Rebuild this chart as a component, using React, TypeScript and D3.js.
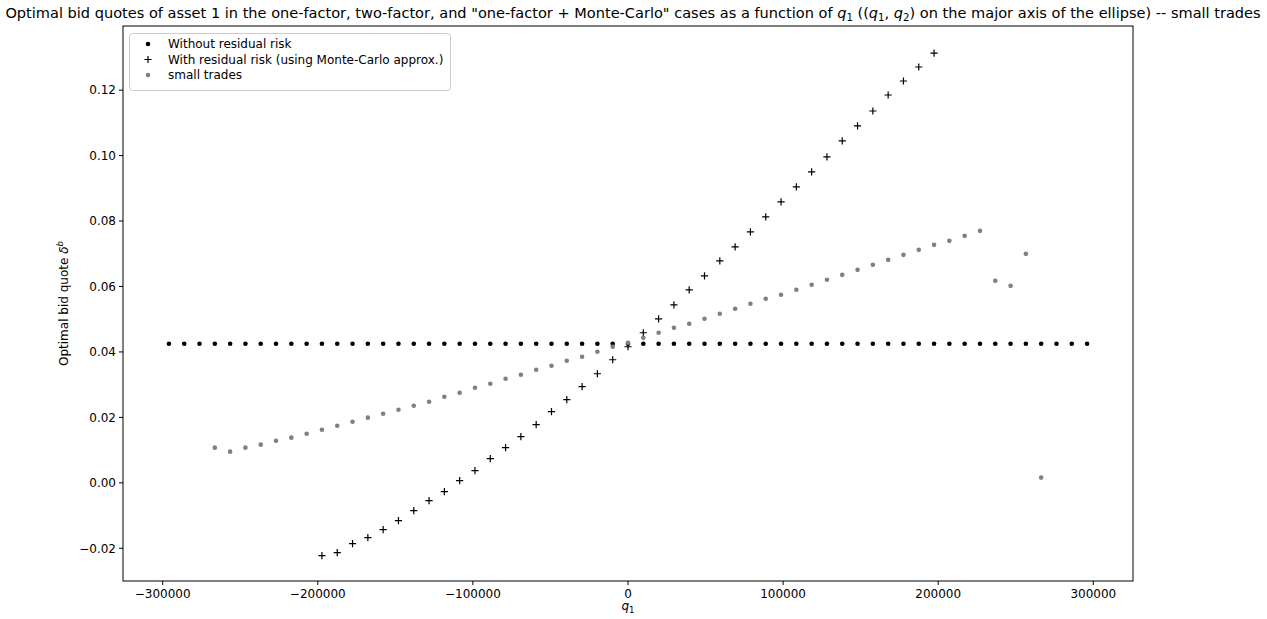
import React from 'react';
import * as d3 from 'd3';

const q1 = [
  -296000, -286133, -276267, -266400, -256533, -246667, -236800, -226933, -217067, -207200,
  -197333, -187467, -177600, -167733, -157867, -148000, -138133, -128267, -118400, -108533,
  -98667, -88800, -78933, -69067, -59200, -49333, -39467, -29600, -19733, -9867,
  0,
  9867, 19733, 29600, 39467, 49333, 59200, 69067, 78933, 88800, 98667,
  108533, 118400, 128267, 138133, 148000, 157867, 167733, 177600, 187467, 197333,
  207200, 217067, 226933, 236800, 246667, 256533, 266400, 276267, 286133, 296000,
];

const quoteWithout = [
  0.0425, 0.0425, 0.0425, 0.0425, 0.0425, 0.0425, 0.0425, 0.0425, 0.0425, 0.0425,
  0.0425, 0.0425, 0.0425, 0.0425, 0.0425, 0.0425, 0.0425, 0.0425, 0.0425, 0.0425,
  0.0425, 0.0425, 0.0425, 0.0425, 0.0425, 0.0425, 0.0425, 0.0425, 0.0425, 0.0425,
  0.0425,
  0.0425, 0.0425, 0.0425, 0.0425, 0.0425, 0.0425, 0.0425, 0.0425, 0.0425, 0.0425,
  0.0425, 0.0425, 0.0425, 0.0425, 0.0425, 0.0425, 0.0425, 0.0425, 0.0425, 0.0425,
  0.0425, 0.0425, 0.0425, 0.0425, 0.0425, 0.0425, 0.0425, 0.0425, 0.0425, 0.0425,
];

const quoteResidual: (number | null)[] = [
  null, null, null, null, null, null, null, null, null, null,
  -0.02223, -0.02131, -0.01856, -0.01673, -0.01429, -0.01154, -0.00849, -0.00543, -0.00269, 0.00067,
  0.00372, 0.00739, 0.01075, 0.0141, 0.01777, 0.02174, 0.0254, 0.02937, 0.03334, 0.03761,
  0.04158,
  0.04586, 0.05013, 0.0544, 0.05898, 0.06326, 0.06784, 0.07211, 0.07669, 0.08127, 0.08585,
  0.09043, 0.09501, 0.09959, 0.10447, 0.10905, 0.11363, 0.11852, 0.12279, 0.12707, 0.13134,
  null, null, null, null, null, null, null, null, null, null,
];

const quoteSmall: (number | null)[] = [
  null, null, null, 0.01075, 0.00953, 0.01075, 0.01166, 0.01288, 0.0138, 0.01502,
  0.01624, 0.01746, 0.01868, 0.01991, 0.02113, 0.02235, 0.02357, 0.02479, 0.02632, 0.02754,
  0.02906, 0.03029, 0.03181, 0.03303, 0.03456, 0.03578, 0.03731, 0.03853, 0.04005, 0.04158,
  0.0428,
  0.04433, 0.04586, 0.04738, 0.0486, 0.05013, 0.05166, 0.05318, 0.05471, 0.05624, 0.05746,
  0.05898, 0.06051, 0.06204, 0.06356, 0.06509, 0.06662, 0.06814, 0.06967, 0.0712, 0.07272,
  0.07394, 0.07547, 0.077, 0.06173, 0.0602, 0.06997, 0.00159, null, null, null,
];

const xTicks = [-300000, -200000, -100000, 0, 100000, 200000, 300000];
const yTicks = [-0.02, 0, 0.02, 0.04, 0.06, 0.08, 0.1, 0.12];
const legendLabels = [
  'Without residual risk',
  'With residual risk (using Monte-Carlo approx.)',
  'small trades',
];

const FONT = '"DejaVu Sans", sans-serif';

export default function App() {
  const W = 1267;
  const H = 619;
  const L = 123, R = 1133, T = 26, B = 581;
  const x = d3.scaleLinear().domain([-325600, 325600]).range([L, R]);
  const y = d3.scaleLinear().domain([-0.03, 0.1396]).range([B, T]);
  const fmtX = (v: number) => d3.format('d')(v).replace('-', '\u2212');
  const fmtY = (v: number) => d3.format('.2f')(v).replace('-', '\u2212');
  const grey = '#808080';
  const fs = 12;
  const plus = (cx: number, cy: number, s = 3.6) =>
    `M${cx - s},${cy}H${cx + s}M${cx},${cy - s}V${cy + s}`;

  return (
    <svg
      width={W}
      height={H}
      style={{ position: 'absolute', left: 0, top: 0, background: '#fff' }}
      fontFamily={FONT}
    >
      <rect x={0} y={0} width={W} height={H} fill="#fff" />
      {/* title */}
      <text x={633} y={18} textAnchor="middle" fontSize={14.55} fill="#000">
        Optimal bid quotes of asset 1 in the one-factor, two-factor, and "one-factor + Monte-Carlo" cases as a function of{' '}
        <tspan fontStyle="italic">q</tspan>
        <tspan fontSize={10.2} dy={3}>1</tspan>
        <tspan dy={-3}> ((</tspan>
        <tspan fontStyle="italic">q</tspan>
        <tspan fontSize={10.2} dy={3}>1</tspan>
        <tspan dy={-3}>, </tspan>
        <tspan fontStyle="italic">q</tspan>
        <tspan fontSize={10.2} dy={3}>2</tspan>
        <tspan dy={-3}>) on the major axis of the ellipse) -- small trades</tspan>
      </text>

      {/* data: without residual risk */}
      {q1.map((q, i) => (
        <circle key={'b' + i} cx={x(q)} cy={y(quoteWithout[i])} r={2.3} fill="#000" />
      ))}
      {/* data: with residual risk */}
      {q1.map((q, i) =>
        quoteResidual[i] === null ? null : (
          <path key={'p' + i} d={plus(x(q), y(quoteResidual[i] as number))} stroke="#000" strokeWidth={1.2} fill="none" />
        )
      )}
      {/* data: small trades */}
      {q1.map((q, i) =>
        quoteSmall[i] === null ? null : (
          <circle key={'g' + i} cx={x(q)} cy={y(quoteSmall[i] as number)} r={2.3} fill={grey} />
        )
      )}

      {/* frame */}
      <rect x={L} y={T} width={R - L} height={B - T} fill="none" stroke="#000" strokeWidth={1} />

      {/* x ticks */}
      {xTicks.map((t) => (
        <g key={'xt' + t}>
          <line x1={x(t)} x2={x(t)} y1={B} y2={B + 4} stroke="#000" strokeWidth={1} />
          <text x={x(t)} y={B + 17} textAnchor="middle" fontSize={fs} fill="#000">
            {fmtX(t)}
          </text>
        </g>
      ))}
      {/* y ticks */}
      {yTicks.map((t) => (
        <g key={'yt' + t}>
          <line x1={L - 4} x2={L} y1={y(t)} y2={y(t)} stroke="#000" strokeWidth={1} />
          <text x={L - 7} y={y(t)} dy="0.36em" textAnchor="end" fontSize={fs} fill="#000">
            {fmtY(t)}
          </text>
        </g>
      ))}

      {/* axis labels */}
      <text x={(L + R) / 2} y={610} textAnchor="middle" fontSize={fs} fill="#000">
        <tspan fontStyle="italic">q</tspan>
        <tspan fontSize={8.6} dy={3}>1</tspan>
      </text>
      <text transform={`translate(68,${(T + B) / 2}) rotate(-90)`} textAnchor="middle" fontSize={fs} fill="#000">
        Optimal bid quote <tspan fontStyle="italic">δ</tspan>
        <tspan fontStyle="italic" fontSize={8.6} dy={-5}>b</tspan>
      </text>

      {/* legend */}
      <g>
        <rect x={129.5} y={33.5} width={321} height={57} rx={3} fill="#fff" fillOpacity={0.8} stroke="#cccccc" strokeWidth={1} />
        <circle cx={148} cy={44} r={2.3} fill="#000" />
        <path d={plus(148, 59.5)} stroke="#000" strokeWidth={1.2} fill="none" />
        <circle cx={148} cy={75} r={2.3} fill={grey} />
        {legendLabels.map((lab, i) => (
          <text key={lab} x={168} y={44 + i * 15.5} dy="0.36em" fontSize={fs} fill="#000">
            {lab}
          </text>
        ))}
      </g>
    </svg>
  );
}
